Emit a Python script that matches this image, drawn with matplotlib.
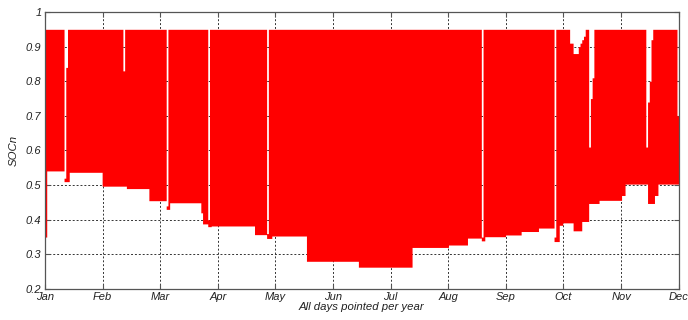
import numpy as np
import matplotlib
matplotlib.use("Agg")
import matplotlib.pyplot as plt

# lower envelope (daily minimum SOC), stored as runs: level, number of days
low_level = [0.35, 0.541, 0.51, 0.537, 0.497, 0.49, 0.455, 0.43, 0.449, 0.42,
             0.388, 0.38, 0.382, 0.357, 0.346, 0.353, 0.28, 0.263, 0.32, 0.327,
             0.347, 0.339, 0.351, 0.356, 0.366, 0.376, 0.337, 0.384, 0.391, 0.368,
             0.395, 0.447, 0.456, 0.47, 0.503, 0.447, 0.47, 0.503]
low_days = [1, 10, 3, 19, 14, 13, 10, 2, 18, 1,
            3, 2, 25, 7, 3, 20, 30, 31, 21, 11,
            8, 2, 12, 9, 10, 9, 3, 2, 6, 5,
            4, 6, 13, 2, 13, 4, 2, 12]

# daily maximum is 0.95, except on these days
top_value = 0.95
dip_day = [11, 12, 45, 70, 94, 128, 252, 294,
           303, 304, 305, 306, 307, 308, 309, 310, 311, 314, 315, 316,
           347, 348, 349, 350, 365]
dip_max = [0.52, 0.84, 0.83, 0.44, 0.40, 0.36, 0.35, 0.35,
           0.91, 0.91, 0.88, 0.88, 0.88, 0.90, 0.91, 0.92, 0.93, 0.61, 0.75, 0.81,
           0.61, 0.74, 0.80, 0.92, 0.70]

months = ["Jan", "Feb", "Mar", "Apr", "May", "Jun",
          "Jul", "Aug", "Sep", "Oct", "Nov", "Dec"]

daily_min = np.repeat(low_level, low_days)
n = len(daily_min)
daily_max = np.full(n, top_value)
daily_max[dip_day] = dip_max
daily_max = np.maximum(daily_max, daily_min)

edges = np.arange(n + 1)
lo = np.append(daily_min, daily_min[-1])
hi = np.append(daily_max, daily_max[-1])

plt.rcParams['font.family'] = ['Liberation Sans', 'DejaVu Sans']

fig = plt.figure(figsize=(6.88, 3.2), dpi=100)
ax = fig.add_axes([0.0654, 0.0969, 0.9211, 0.8656])

ax.fill_between(edges, lo, hi, step='post', color='#ff0000', lw=0, zorder=2)

ax.set_xlim(0, n)
ax.set_ylim(0.2, 1.0)
ax.set_xticks(np.linspace(0, n, 12))
ax.set_xticklabels(months, fontstyle='italic', fontsize=8)
ax.set_yticks(np.arange(0.2, 1.01, 0.1))
ax.set_yticklabels(["0.2", "0.3", "0.4", "0.5", "0.6", "0.7", "0.8", "0.9", "1"],
                   fontstyle='italic', fontsize=8)

ax.grid(True, color='#333333', linestyle=(0, (2, 2)), linewidth=0.7, zorder=0)
ax.set_axisbelow(True)
ax.tick_params(direction='in', length=3.5, width=0.8, colors='#555555',
               top=True, right=True, pad=2.5, labelcolor='#222222')
for s in ax.spines.values():
    s.set_color('#555555')
    s.set_linewidth(0.9)
    s.set_zorder(3)

ax.set_xlabel("All days pointed per year", fontstyle='italic', fontsize=8.2,
              color='#222222', labelpad=0)
ax.set_ylabel("SOCn", fontstyle='italic', fontsize=8.2, color='#222222', labelpad=5)

fig.savefig("out.png", dpi=100)
